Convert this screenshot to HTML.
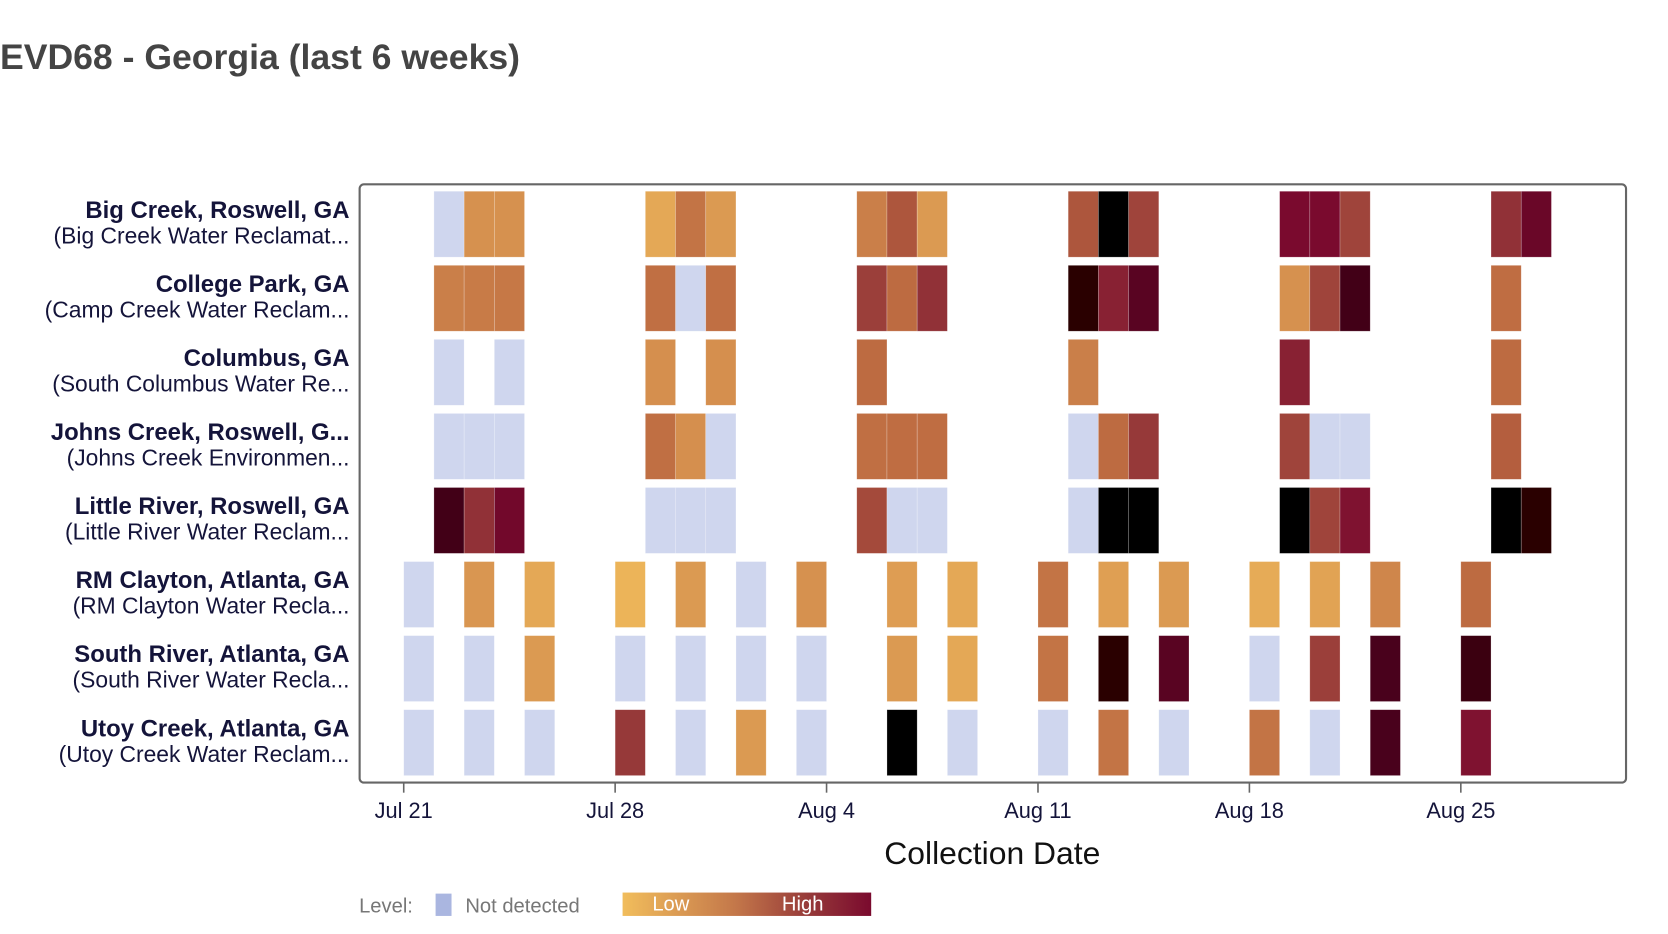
<!DOCTYPE html>
<html><head><meta charset="utf-8"><style>
html,body{margin:0;padding:0;background:#fff;}
svg{display:block;font-family:"Liberation Sans",Arial,sans-serif;}
</style></head><body>
<svg id="chart" width="1668" height="934" viewBox="0 0 1570 879" preserveAspectRatio="none" xmlns="http://www.w3.org/2000/svg">
<text x="0" y="65" font-size="33.5" font-weight="bold" fill="#444">EVD68 - Georgia (last 6 weeks)</text>
<rect x="338.5" y="173.5" width="1192" height="563" rx="4" fill="none" stroke="#666" stroke-width="2"/>
<g id="cells"></g>
<g id="ylabels"></g>
<g id="xaxis"></g>
<text x="934" y="813" font-size="30" text-anchor="middle" fill="#111">Collection Date</text>
<defs><linearGradient id="lg" x1="0" x2="1" y1="0" y2="0">
<stop offset="0" stop-color="#f1bd5c"/><stop offset="0.45" stop-color="#c4784a"/><stop offset="0.75" stop-color="#963939"/><stop offset="1" stop-color="#7a0a2e"/></linearGradient></defs>
<g>
<text x="338" y="859" font-size="19" fill="#777">Level:</text>
<rect x="410" y="841" width="15" height="21" fill="#aab6e0"/>
<text x="438" y="859" font-size="19" fill="#777">Not detected</text>
<rect x="586" y="840" width="234" height="22" fill="url(#lg)"/>
<text x="614" y="857" font-size="19" fill="#fff">Low</text>
<text x="736" y="857" font-size="19" fill="#fff">High</text>
</g>
</svg>
<script>
const sites = ["Big Creek, Roswell, GA","College Park, GA","Columbus, GA","Johns Creek, Roswell, G...","Little River, Roswell, GA","RM Clayton, Atlanta, GA","South River, Atlanta, GA","Utoy Creek, Atlanta, GA"];
const plants = ["(Big Creek Water Reclamat...","(Camp Creek Water Reclam...","(South Columbus Water Re...","(Johns Creek Environmen...","(Little River Water Reclam...","(RM Clayton Water Recla...","(South River Water Recla...","(Utoy Creek Water Reclam..."];
const tickLabels = ["Jul 21","Jul 28","Aug 4","Aug 11","Aug 18","Aug 25"];
const tickDays = [0,7,14,21,28,35];
// each row: [dayIndex (0 = Jul 21), level (0 = not detected, 0-1 low->high otherwise)]
const rowBigCreek = [[1,0],[2,.25],[3,.25],[8,.12],[9,.38],[10,.2],[15,.33],[16,.5],[17,.2],[22,.5],[23,1],[24,.56],[29,.72],[30,.72],[31,.56],[36,.62],[37,.76]];
const rowCollegePark = [[1,.33],[2,.35],[3,.36],[8,.4],[9,0],[10,.4],[15,.58],[16,.42],[17,.62],[22,.93],[23,.66],[24,.8],[29,.25],[30,.56],[31,.86],[36,.41]];
const rowColumbus = [[1,0],[3,0],[8,.26],[10,.26],[15,.42],[22,.33],[29,.66],[36,.42]];
const rowJohnsCreek = [[1,0],[2,0],[3,0],[8,.4],[9,.26],[10,0],[15,.4],[16,.41],[17,.41],[22,0],[23,.42],[24,.6],[29,.56],[30,0],[31,0],[36,.47]];
const rowLittleRiver = [[1,.86],[2,.62],[3,.74],[8,0],[9,0],[10,0],[15,.54],[16,0],[17,0],[22,0],[23,1],[24,1],[29,1],[30,.56],[31,.7],[36,1],[37,.93]];
const rowRMClayton = [[0,0],[2,.22],[4,.12],[7,.05],[9,.2],[11,0],[13,.25],[16,.18],[18,.12],[21,.38],[23,.17],[25,.2],[28,.1],[30,.15],[32,.3],[35,.42]];
const rowSouthRiver = [[0,0],[2,0],[4,.2],[7,0],[9,0],[11,0],[13,0],[16,.2],[18,.12],[21,.38],[23,.93],[25,.8],[28,0],[30,.58],[32,.84],[35,.88]];
const rowUtoyCreek = [[0,0],[2,0],[4,0],[7,.6],[9,0],[11,.2],[13,0],[16,1],[18,0],[21,0],[23,.38],[25,0],[28,.38],[30,0],[32,.84],[35,.7]];
const rows = [rowBigCreek,rowCollegePark,rowColumbus,rowJohnsCreek,rowLittleRiver,rowRMClayton,rowSouthRiver,rowUtoyCreek];

const NS="http://www.w3.org/2000/svg";
const dayW = 199/7;
const xScale = d => 380 + d*dayW;
const rowTop = i => 180 + i*69.7;
const cellH = 62;
const stops = [[0,[241,189,92]],[.25,[214,145,79]],[.45,[185,100,63]],[.6,[150,57,57]],[.72,[122,10,46]],[.85,[69,0,26]],[.93,[42,0,0]],[1,[0,0,0]]];
function color(v){
  if(v===0) return "#cfd6ee";
  for(let k=1;k<stops.length;k++){
    if(v<=stops[k][0]){const a=stops[k-1],b=stops[k];const t=(v-a[0])/(b[0]-a[0]);
      const c=a[1].map((x,j)=>Math.round(x+(b[1][j]-x)*t));return `rgb(${c})`;}
  }
  return "#000";
}
const cg=document.getElementById('cells');
rows.forEach((r,i)=>{
  r.forEach(([d,v])=>{
    const el=document.createElementNS(NS,'rect');
    el.setAttribute('x',xScale(d));el.setAttribute('y',rowTop(i));
    el.setAttribute('width',dayW);el.setAttribute('height',cellH);
    el.setAttribute('fill',color(v));
    el.setAttribute('stroke','rgba(255,255,255,0.35)');el.setAttribute('stroke-width','0.6');
    
    
    cg.appendChild(el);
  });
});
const yg=document.getElementById('ylabels');
sites.forEach((s,i)=>{
  const cy=rowTop(i)+cellH/2;
  const t1=document.createElementNS(NS,'text');
  t1.setAttribute('x',329);t1.setAttribute('y',cy-6);t1.setAttribute('text-anchor','end');
  t1.setAttribute('font-size','22.5');t1.setAttribute('font-weight','bold');t1.setAttribute('fill','#14143a');
  t1.textContent=s;
  
  
  yg.appendChild(t1);
  const t2=document.createElementNS(NS,'text');
  t2.setAttribute('x',329);t2.setAttribute('y',cy+18);t2.setAttribute('text-anchor','end');
  t2.setAttribute('font-size','21.5');t2.setAttribute('fill','#14143a');
  t2.textContent=plants[i];
  
  
  yg.appendChild(t2);
});
const xg=document.getElementById('xaxis');
tickDays.forEach((d,i)=>{
  const x=xScale(d);
  const ln=document.createElementNS(NS,'line');
  ln.setAttribute('x1',x);ln.setAttribute('x2',x);ln.setAttribute('y1',737);ln.setAttribute('y2',746);
  ln.setAttribute('stroke','#666');ln.setAttribute('stroke-width','1.5');
  
  
  xg.appendChild(ln);
  const t=document.createElementNS(NS,'text');
  t.setAttribute('x',x);t.setAttribute('y',770);t.setAttribute('text-anchor','middle');
  t.setAttribute('font-size','20.5');t.setAttribute('fill','#14143a');
  t.textContent=tickLabels[i];
  
  
  xg.appendChild(t);
});
</script>
</body></html>
